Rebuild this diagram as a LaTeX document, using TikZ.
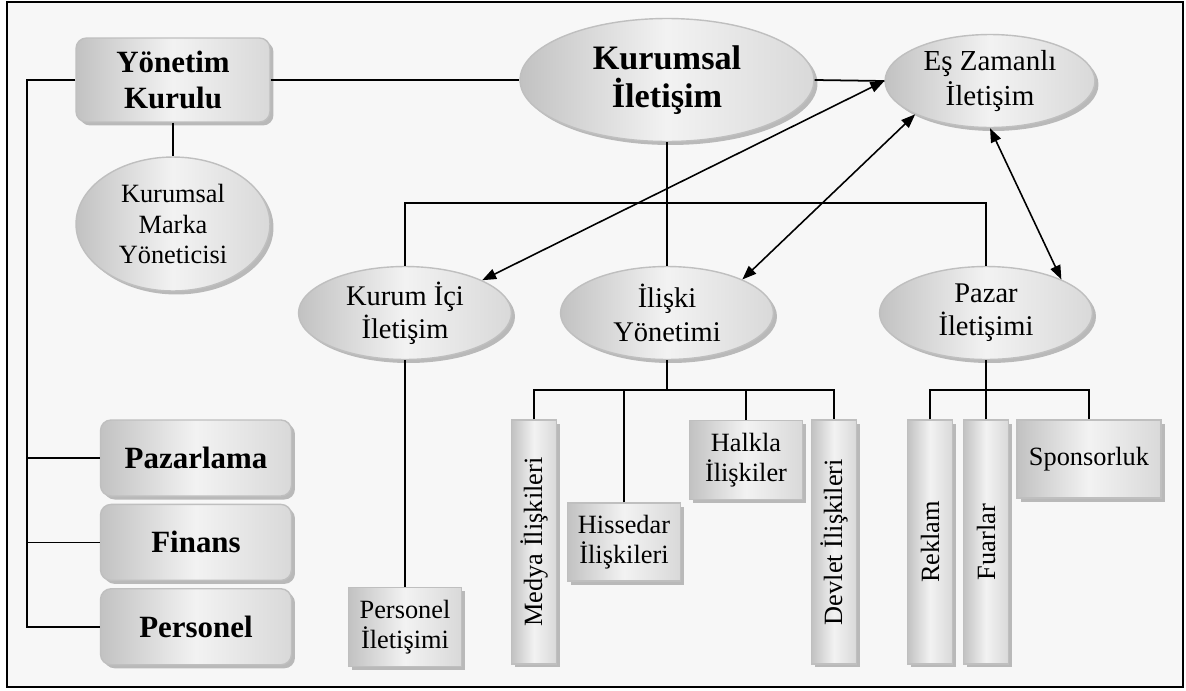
\documentclass[tikz,border=0pt]{standalone}
\usepackage{fontspec}
\setmainfont{Liberation Serif}
\usepackage{graphicx}
\usepackage{tikz}
\usetikzlibrary{shapes.geometric,arrows.meta,positioning,shadows}
\definecolor{frameBg}{HTML}{F7F7F7}

\begin{document}
\begin{tikzpicture}[
    x=0.02cm, y=-0.02cm,
    grad/.style={left color=gray!48, right color=gray!30, middle color=gray!10, draw=gray!50, line width=0.8pt,
                 drop shadow={shadow xshift=0.07cm, shadow yshift=-0.07cm, fill=gray!55, opacity=1}},
    rbox/.style={grad, rectangle, rounded corners=6pt, inner sep=0pt, minimum width=3.82cm, minimum height=1.52cm,
                 align=center, font=\fontsize{17.6}{21}\selectfont\bfseries},
    sbox/.style={grad, rectangle, inner sep=0pt, minimum width=2.26cm, minimum height=1.58cm,
                 align=center, font=\fontsize{15}{17}\selectfont},
    vbox/.style={grad, rectangle, inner sep=0pt, minimum width=0.9cm, minimum height=4.88cm,
                 font=\fontsize{15}{17}\selectfont},
    ell/.style={grad, ellipse, inner sep=0pt, minimum width=4.26cm, minimum height=1.86cm,
                align=center, font=\fontsize{16.2}{19}\selectfont},
    link/.style={line width=1pt},
    arrow/.style={{Triangle[length=8pt,width=6pt]}-{Triangle[length=8pt,width=6pt]}, line width=0.9pt}
]
    \useasboundingbox (0,0) rectangle (1186,690);
    \draw[line width=1.6pt, fill=frameBg] (7,2) rectangle (1183,687);

    \node[rbox, minimum width=3.88cm, minimum height=1.68cm] (yonetim) at (173,80) {Yönetim\\Kurulu};
    \node[ell, minimum width=3.88cm, minimum height=2.68cm, font=\fontsize{15}{17.6}\selectfont] (marka) at (173,224) {Kurumsal\\Marka\\Yöneticisi};
    \node[rbox] (pazarlama) at (196,458) {Pazarlama};
    \node[rbox, below=0.14cm of pazarlama] (finans) {Finans};
    \node[rbox, below=0.14cm of finans] (personel) {Personel};

    \node[ell, minimum width=5.88cm, minimum height=2.46cm, font=\fontsize{19.5}{22}\selectfont\bfseries] (kurumsal) at (667,80) {Kurumsal\\İletişim};
    \node[ell, minimum width=4.2cm, font=\fontsize{16.5}{19.5}\selectfont] (es) at (990,81) {Eş Zamanlı\\İletişim};

    \node[ell] (kurumici) at (405,313) {Kurum İçi\\İletişim};
    \node[ell] (iliski) at (667,313) {İlişki\\Yönetimi};
    \node[ell] (pazar) at (986,313) {Pazar\\İletişimi};

    \node[sbox] (persil) at (405,627) {Personel\\İletişimi};
    \node[vbox] (medya) at (534,542) {\rotatebox{90}{Medya İlişkileri}};
    \node[sbox, minimum height=1.56cm] (hisse) at (624,542) {Hissedar\\İlişkileri};
    \node[sbox] (halkla) at (746,460) {Halkla\\İlişkiler};
    \node[vbox] (devlet) at (834,542) {\rotatebox{90}{Devlet İlişkileri}};
    \node[vbox] (reklam) at (930,542) {\rotatebox{90}{Reklam}};
    \node[vbox] (fuar) at (986,542) {\rotatebox{90}{Fuarlar}};
    \node[sbox, minimum width=2.88cm, minimum height=1.56cm] (sponsor) at (1089,459) {Sponsorluk};

    \coordinate (lbus) at (27,80);
    \coordinate (tbus) at (667,203);
    \coordinate (rbus) at (667,390);
    \coordinate (pbus) at (986,390);

    \draw[link] (yonetim.west) -- (lbus) |- (personel.west);
    \draw[link] (pazarlama.west) -- (pazarlama.west -| lbus);
    \draw[link] (finans.west) -- (finans.west -| lbus);
    \draw[link] (yonetim.south) -- (marka.north);
    \draw[link] (yonetim.east) -- (kurumsal.west);
    \draw[link] (kurumsal.east) -- (es.west);
    \draw[link] (kurumsal.south) -- (iliski.north);
    \draw[link] (kurumici.north) |- (tbus) -| (pazar.north);
    \draw[link] (kurumici.south) -- (persil.north);

    \draw[link, line width=1.4pt] (iliski.south) -- (rbus);
    \draw[link] (medya.north) |- (rbus) -| (devlet.north);
    \draw[link] (hisse.north) -- (hisse.north |- rbus);
    \draw[link] (halkla.north) -- (halkla.north |- rbus);

    \draw[link, line width=1.4pt] (pazar.south) -- (pbus);
    \draw[link] (reklam.north) |- (pbus) -| (sponsor.north);
    \draw[link] (fuar.north) -- (pbus);

    \draw[arrow] (kurumici.23) -- (es.west);
    \draw[arrow] (iliski.24) -- (es.204);
    \draw[arrow] (pazar.24) -- (es.south);
\end{tikzpicture}
\end{document}
